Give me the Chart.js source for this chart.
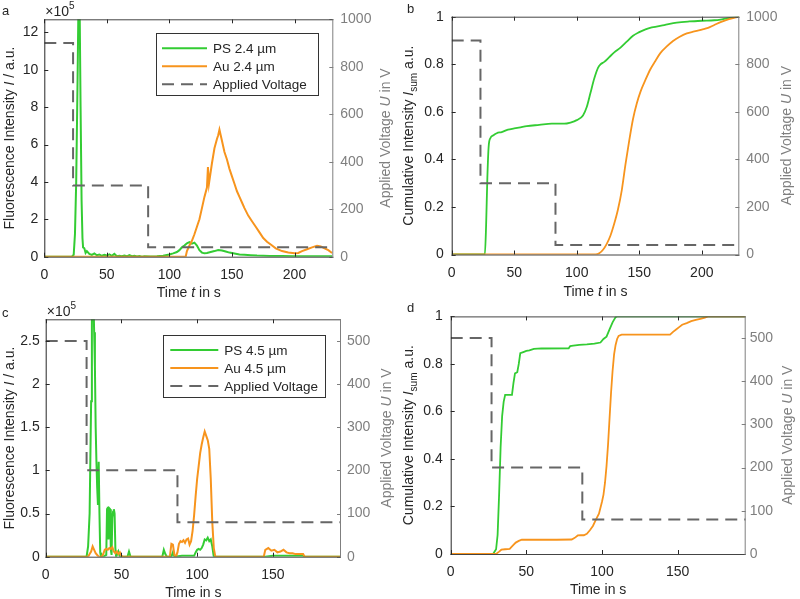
<!DOCTYPE html>
<html>
<head>
<meta charset="utf-8">
<script src="https://cdn.jsdelivr.net/npm/chart.js@4.4.0/dist/chart.umd.min.js"></script>
<style>
  body { margin: 0; background: #fff; width: 800px; height: 599px; position: relative; overflow: hidden; }
  .panel { position: absolute; }
  canvas { display: block; }
</style>
</head>
<body>
<div class="panel" style="left:0;top:0"><canvas id="ca" width="400" height="300"></canvas></div>
<div class="panel" style="left:400px;top:0"><canvas id="cb" width="400" height="300"></canvas></div>
<div class="panel" style="left:0;top:300px"><canvas id="cc" width="400" height="299"></canvas></div>
<div class="panel" style="left:400px;top:300px"><canvas id="cd" width="400" height="299"></canvas></div>
<script>
// ---- data (intensity in units of 1e5 for panels a and c) ----
const aTimePS = [0, 22, 23.5, 24.5, 25.5, 26.5, 27.3, 28.3, 29, 29.8, 30.5, 31, 32, 33, 34, 36, 38, 40, 42, 44, 46, 48, 50, 52, 54, 56, 58, 60, 62, 64, 66, 68, 70, 72, 74, 76, 78, 80, 85, 90, 95, 100, 103, 106, 108, 110, 112, 114, 116, 118, 120, 122, 124, 126, 128, 130, 133, 136, 139, 142, 145, 148, 152, 156, 160, 165, 170, 180, 190, 200, 210, 220, 230];
const aPS = [0, 0, 0.1, 1.2, 4, 9, 13.5, 13, 8, 3, 1, 0.5, 0.45, 0.2, 0.3, 0.15, 0.1, 0.18, 0.08, 0.12, 0.05, 0.1, 0.06, 0.12, 0.05, 0.15, 0.03, 0.05, 0.02, 0.06, 0.02, 0.08, 0.03, 0.05, 0.01, 0.04, 0, 0.02, 0.01, 0.02, 0.05, 0.12, 0.18, 0.25, 0.35, 0.5, 0.6, 0.72, 0.78, 0.7, 0.75, 0.6, 0.35, 0.22, 0.18, 0.2, 0.25, 0.3, 0.36, 0.33, 0.28, 0.22, 0.17, 0.12, 0.1, 0.08, 0.06, 0.04, 0.04, 0.02, 0.03, 0.02, 0.02];
const aTimeAu = [0, 113, 114, 116, 118, 120, 122, 124, 126, 128, 130, 130.8, 131.6, 134, 136, 138, 139, 140, 141, 142, 144, 146, 148, 150, 152, 154, 156, 158, 160, 163, 166, 169, 172, 175, 178, 181, 185, 190, 195, 200, 203, 206, 210, 214, 218, 221, 224, 227, 230];
const aAu = [0, 0, 0.3, 0.6, 0.85, 1.2, 1.6, 2.0, 2.6, 3.2, 3.7, 4.8, 3.9, 5.0, 5.8, 6.3, 6.5, 6.8, 6.5, 6.2, 5.6, 5.2, 4.7, 4.3, 3.9, 3.5, 3.2, 2.9, 2.6, 2.2, 1.9, 1.6, 1.3, 1.0, 0.8, 0.65, 0.45, 0.3, 0.22, 0.18, 0.2, 0.3, 0.4, 0.5, 0.58, 0.55, 0.45, 0.35, 0.2];

const bTimePS = [0, 26.5, 27.5, 28.5, 29.5, 31, 33, 36, 40, 45, 50, 55, 60, 70, 80, 90, 95, 100, 105, 108, 111, 114, 117, 119, 122, 126, 130, 135, 140, 145, 150, 155, 160, 170, 180, 190, 200, 210, 215, 220, 225, 230];
const bPS = [0, 0, 0.12, 0.32, 0.45, 0.49, 0.5, 0.51, 0.515, 0.525, 0.53, 0.535, 0.54, 0.545, 0.55, 0.55, 0.555, 0.565, 0.585, 0.62, 0.68, 0.74, 0.785, 0.8, 0.81, 0.83, 0.85, 0.87, 0.895, 0.92, 0.935, 0.947, 0.955, 0.965, 0.975, 0.98, 0.983, 0.985, 0.988, 0.993, 0.997, 1.0];
const bTimeAu = [0, 115, 118, 121, 124, 127, 130, 133, 136, 139, 142, 145, 148, 151, 155, 159, 163, 167, 172, 177, 182, 188, 194, 200, 205, 210, 215, 220, 225, 230];
const bAu = [0, 0, 0.005, 0.02, 0.045, 0.08, 0.13, 0.19, 0.27, 0.38, 0.48, 0.57, 0.635, 0.685, 0.735, 0.78, 0.815, 0.848, 0.875, 0.898, 0.915, 0.93, 0.938, 0.946, 0.953, 0.965, 0.977, 0.987, 0.994, 1.0];

const cTimePS = [0, 27, 28, 29, 30, 30.5, 31, 31.5, 32, 32.5, 33, 33.5, 34, 34.5, 35, 35.5, 36, 36.5, 38, 40, 40.5, 41, 41.5, 42, 42.5, 43, 43.5, 44, 44.5, 45, 45.5, 46, 46.5, 48, 49, 54, 55, 56, 77, 78, 79, 80, 83, 84, 85, 90, 98, 99, 100, 101, 102, 103, 104, 105, 106, 107, 108, 109, 110, 111, 145, 150, 160, 170, 171, 195];
const cPS = [0, 0, 0.12, 0.5, 1.8, 2.8, 3.2, 3.0, 2.6, 2.2, 1.5, 1.1, 0.8, 0.6, 1.1, 0.5, 0.05, 0, 0, 0.02, 0.55, 0.58, 0.2, 0.56, 0.55, 0.08, 0.02, 0.45, 0.52, 0.55, 0.5, 0.1, 0, 0.06, 0, 0, 0.06, 0, 0, 0.08, 0.03, 0, 0, 0.05, 0, 0.01, 0.01, 0.05, 0.08, 0.09, 0.08, 0.1, 0.14, 0.2, 0.19, 0.22, 0.18, 0.2, 0.12, 0, 0, 0.01, 0.01, 0.01, 0, 0];
const cTimeAu = [0, 28, 29, 30, 31, 32, 33, 34, 35, 37, 38, 39, 40, 41, 42, 43, 44, 45, 46, 47, 48, 49, 50, 51, 82, 83, 84, 85, 86, 87, 88, 89, 90, 91, 92, 93, 94, 95, 96, 97, 98, 99, 100, 101, 102, 103, 104, 105, 106, 107, 108, 109, 110, 111, 112, 144, 145, 147, 149, 151, 153, 155, 157, 159, 161, 163, 165, 167, 170, 171, 195];
const cAu = [0, 0, 0.03, 0.06, 0.12, 0.08, 0.04, 0.02, 0, 0, 0.03, 0.08, 0.09, 0.08, 0.1, 0.09, 0.11, 0.06, 0.04, 0.06, 0.03, 0.05, 0.01, 0, 0, 0.15, 0.14, 0.02, 0, 0.05, 0.15, 0.18, 0.17, 0.19, 0.16, 0.2, 0.21, 0.14, 0.18, 0.3, 0.48, 0.7, 0.9, 1.05, 1.2, 1.3, 1.38, 1.45, 1.4, 1.35, 1.25, 0.9, 0.4, 0.1, 0, 0, 0.08, 0.1, 0.07, 0.08, 0.05, 0.06, 0.08, 0.05, 0.04, 0.04, 0.03, 0.03, 0.03, 0, 0];

const dTimePS = [0, 28, 30, 31, 32, 33, 34, 35, 36, 40.5, 41.5, 42.5, 44, 45, 46, 48, 50, 52, 55, 60, 78, 79, 81, 85, 90, 95, 99, 101, 103, 105, 107, 109, 110, 120, 195];
const dPS = [0, 0, 0.02, 0.08, 0.25, 0.45, 0.58, 0.64, 0.67, 0.67, 0.72, 0.76, 0.765, 0.8, 0.845, 0.85, 0.855, 0.857, 0.863, 0.865, 0.866, 0.875, 0.877, 0.88, 0.882, 0.885, 0.89, 0.905, 0.915, 0.945, 0.975, 0.997, 1.0, 1.0, 1.0];
const dTimeAu = [0, 30, 32, 33.5, 36, 39, 41, 43, 45, 47, 50, 60, 70, 80, 82, 84, 86, 88, 90, 92, 94, 96, 98, 100, 101, 102, 103, 104, 105, 106, 107, 108, 109, 110, 111, 113, 130, 145, 147, 149, 151, 153, 156, 159, 162, 165, 168, 170, 195];
const dAu = [0, 0, 0.01, 0.018, 0.02, 0.022, 0.035, 0.048, 0.055, 0.06, 0.06, 0.06, 0.06, 0.061, 0.068, 0.078, 0.079, 0.079, 0.085, 0.1, 0.118, 0.145, 0.17, 0.22, 0.25, 0.3, 0.37, 0.46, 0.57, 0.68, 0.77, 0.84, 0.88, 0.905, 0.918, 0.923, 0.923, 0.923, 0.935, 0.945, 0.955, 0.965, 0.972, 0.98, 0.985, 0.99, 0.995, 1.0, 1.0];

// applied voltage steps
const vTimeAB = [0, 23, 23, 83, 83, 230];
const voltAB = [900, 900, 300, 300, 40, 40];
const vTimeCD = [0, 27, 27, 87, 87, 195];
const voltCD = [500, 500, 200, 200, 80, 80];

const FONT = '"Liberation Sans", Arial, Helvetica, sans-serif';
const FS = 14;
const DARK = '#262626';
const GREY = '#7f7f7f';
const GREEN = '#33cc33';
const ORANGE = '#f7941d';
const DASH = '#666666';

const zip = (xs, ys) => xs.map((x, i) => ({ x: x, y: ys[i] }));
const fmt = v => String(+v.toFixed(2));

function fontFor(p, size) {
  return (p.i ? 'italic ' : '') + (p.sub ? size * 0.72 : size) + 'px ' + FONT;
}
function richWidth(ctx, parts, size) {
  let w = 0;
  parts.forEach(p => { ctx.font = fontFor(p, size); w += ctx.measureText(p.t).width; });
  return w;
}
function drawRich(ctx, parts, cx, cy, rot, size, color) {
  ctx.save();
  ctx.translate(cx, cy);
  if (rot) ctx.rotate(rot);
  ctx.fillStyle = color;
  ctx.textBaseline = 'middle';
  ctx.textAlign = 'left';
  let x = -richWidth(ctx, parts, size) / 2;
  parts.forEach(p => {
    ctx.font = fontFor(p, size);
    ctx.fillText(p.t, x, p.sub ? size * 0.35 : 0);
    x += ctx.measureText(p.t).width;
  });
  ctx.restore();
}

const panels = {};

const deco = {
  id: 'deco',
  afterDatasetsDraw(chart) {
    const ctx = chart.ctx, a = chart.chartArea;
    const tl = 4;
    ctx.save();
    ctx.lineWidth = 1;
    // inward ticks, MATLAB style
    ctx.strokeStyle = DARK;
    chart.scales.x.ticks.forEach(t => {
      const x = Math.round(chart.scales.x.getPixelForValue(t.value)) + 0.5;
      ctx.beginPath();
      ctx.moveTo(x, a.bottom); ctx.lineTo(x, a.bottom - tl);
      ctx.moveTo(x, a.top); ctx.lineTo(x, a.top + tl);
      ctx.stroke();
    });
    chart.scales.y.ticks.forEach(t => {
      const y = Math.round(chart.scales.y.getPixelForValue(t.value)) + 0.5;
      ctx.beginPath(); ctx.moveTo(a.left, y); ctx.lineTo(a.left + tl, y); ctx.stroke();
    });
    ctx.strokeStyle = GREY;
    chart.scales.y2.ticks.forEach(t => {
      const y = Math.round(chart.scales.y2.getPixelForValue(t.value)) + 0.5;
      ctx.beginPath(); ctx.moveTo(a.right, y); ctx.lineTo(a.right - tl, y); ctx.stroke();
    });
    // box
    ctx.strokeStyle = '#444444';
    ctx.beginPath();
    ctx.moveTo(a.left, a.top + 0.5); ctx.lineTo(a.right, a.top + 0.5);
    ctx.moveTo(a.left, a.bottom + 0.5); ctx.lineTo(a.right, a.bottom + 0.5);
    ctx.stroke();
    ctx.strokeStyle = DARK;
    ctx.beginPath(); ctx.moveTo(a.left + 0.5, a.top); ctx.lineTo(a.left + 0.5, a.bottom + 1); ctx.stroke();
    ctx.strokeStyle = GREY;
    ctx.beginPath(); ctx.moveTo(a.right - 0.5, a.top); ctx.lineTo(a.right - 0.5, a.bottom + 1); ctx.stroke();
    ctx.restore();
  },
  afterDraw(chart) {
    const p = panels[chart.canvas.id];
    const ctx = chart.ctx, a = chart.chartArea;
    const midY = (a.top + a.bottom) / 2, midX = (a.left + a.right) / 2;
    drawRich(ctx, p.yTitle, p.titlePos[0], midY, -Math.PI / 2, FS, DARK);
    drawRich(ctx, p.y2Title, p.titlePos[1], midY, -Math.PI / 2, FS, GREY);
    drawRich(ctx, p.xTitle, midX, p.titlePos[2], 0, FS, DARK);

    ctx.save();
    ctx.fillStyle = DARK;
    ctx.textBaseline = 'alphabetic';
    ctx.textAlign = 'left';
    ctx.font = '13px ' + FONT;
    ctx.fillText(p.letter, p.letterPos[0], p.letterPos[1]);
    if (p.exp) {
      ctx.font = FS + 'px ' + FONT;
      ctx.fillText('\u00d710', a.left + 1, a.top - 3);
      const w = ctx.measureText('\u00d710').width;
      ctx.font = '10px ' + FONT;
      ctx.fillText('5', a.left + 1 + w, a.top - 10);
    }
    if (p.legend) {
      const L = p.legend;
      ctx.fillStyle = '#fff';
      ctx.fillRect(L.x, L.y, L.w, L.h);
      ctx.strokeStyle = '#333';
      ctx.lineWidth = 1;
      ctx.strokeRect(Math.round(L.x) + 0.5, Math.round(L.y) + 0.5, L.w, L.h);
      chart.data.datasets.forEach((ds, i) => {
        const y = L.y + L.row0 + i * L.dy;
        ctx.save();
        ctx.strokeStyle = ds.borderColor;
        ctx.lineWidth = ds.borderWidth;
        ctx.setLineDash(ds.borderDash || []);
        ctx.beginPath(); ctx.moveTo(L.x + L.l0, y); ctx.lineTo(L.x + L.l1, y); ctx.stroke();
        ctx.restore();
        ctx.fillStyle = DARK;
        ctx.font = '13.5px ' + FONT;
        ctx.textBaseline = 'middle';
        ctx.fillText(ds.label, L.x + L.tx, y + 1);
      });
    }
    ctx.restore();
  }
};

function axisFont() { return { family: FONT, size: FS }; }

function buildChart(p) {
  panels[p.id] = p;
  const canvas = document.getElementById(p.id);
  const W = canvas.width, H = canvas.height;
  return new Chart(canvas, {
    type: 'line',
    data: { datasets: p.datasets },
    options: {
      responsive: false,
      animation: false,
      layout: { padding: { top: p.area.t, left: 0, right: 0, bottom: 0 } },
      elements: { point: { radius: 0 }, line: { tension: 0 } },
      plugins: { legend: { display: false }, tooltip: { enabled: false } },
      scales: {
        x: {
          type: 'linear', min: 0, max: p.xMax,
          grid: { display: false, drawTicks: false }, border: { display: false },
          ticks: { stepSize: 50, includeBounds: false, autoSkip: false, maxRotation: 0, padding: 10, color: DARK, font: axisFont() },
          afterFit: s => { s.height = H - p.area.b; }
        },
        y: {
          type: 'linear', position: 'left', min: 0, max: p.yMax,
          grid: { display: false, drawTicks: false }, border: { display: false },
          ticks: { stepSize: p.yStep, includeBounds: false, padding: p.pad[0], color: DARK, font: axisFont(), callback: fmt },
          afterFit: s => { s.width = p.area.l; }
        },
        y2: {
          type: 'linear', position: 'right', min: 0, max: p.y2Max,
          grid: { display: false, drawTicks: false }, border: { display: false },
          ticks: { stepSize: p.y2Step, includeBounds: false, padding: p.pad[1], color: GREY, font: axisFont(), callback: fmt },
          afterFit: s => { s.width = W - p.area.r; }
        }
      }
    },
    plugins: [deco]
  });
}

function line(label, xs, ys, color, width, order, smooth) {
  return {
    label: label, data: zip(xs, ys), borderColor: color, borderWidth: width,
    fill: false, yAxisID: 'y', order: order,
    cubicInterpolationMode: smooth ? 'monotone' : 'default'
  };
}
function volt(xs, ys) {
  return {
    label: 'Applied Voltage', data: zip(xs, ys), borderColor: DASH, borderWidth: 2,
    borderDash: [12, 7], fill: false, yAxisID: 'y2', order: 1
  };
}

const fluoTitle = [{ t: 'Fluorescence Intensity ' }, { t: 'I', i: true }, { t: ' / a.u.' }];
const cumTitle = [{ t: 'Cumulative Intensity ' }, { t: 'I', i: true }, { t: 'sum', sub: true }, { t: ' a.u.' }];
const voltTitle = [{ t: 'Applied Voltage ' }, { t: 'U', i: true }, { t: ' in V' }];
const timeT = [{ t: 'Time ' }, { t: 't', i: true }, { t: ' in s' }];
const timePlain = [{ t: 'Time in s' }];

buildChart({
  id: 'ca', letter: 'a', letterPos: [2, 15], exp: true,
  area: { l: 44.3, r: 333.3, t: 19.3, b: 256.7 }, pad: [6, 7],
  xMax: 231, yMax: 12.7, yStep: 2, y2Max: 1000, y2Step: 200,
  yTitle: fluoTitle, y2Title: voltTitle, xTitle: timeT, titlePos: [10, 386, 293],
  legend: { x: 156, y: 33.3, w: 162, h: 62, row0: 15, dy: 18, l0: 6, l1: 51, tx: 57 },
  datasets: [
    line('PS 2.4 \u00b5m', aTimePS, aPS, GREEN, 2, 3),
    line('Au 2.4 \u00b5m', aTimeAu, aAu, ORANGE, 2, 2),
    volt(vTimeAB, voltAB)
  ]
});

buildChart({
  id: 'cb', letter: 'b', letterPos: [7, 13],
  area: { l: 51.7, r: 339.3, t: 16.7, b: 254.5 }, pad: [8, 7],
  xMax: 230, yMax: 1, yStep: 0.2, y2Max: 1000, y2Step: 200,
  yTitle: cumTitle, y2Title: voltTitle, xTitle: timeT, titlePos: [9, 387, 291.7],
  datasets: [
    line('PS 2.4 \u00b5m', bTimePS, bPS, GREEN, 1.8, 3, true),
    line('Au 2.4 \u00b5m', bTimeAu, bAu, ORANGE, 1.8, 2, true),
    volt(vTimeAB, voltAB)
  ]
});

buildChart({
  id: 'cc', letter: 'c', letterPos: [2, 17], exp: true,
  area: { l: 45.7, r: 341, t: 19.3, b: 256.7 }, pad: [6, 6],
  xMax: 195, yMax: 2.75, yStep: 0.5, y2Max: 550, y2Step: 100,
  yTitle: fluoTitle, y2Title: voltTitle, xTitle: timePlain, titlePos: [10, 387, 293.3],
  legend: { x: 163.3, y: 35, w: 162, h: 62, row0: 15, dy: 18, l0: 7, l1: 55, tx: 61 },
  datasets: [
    line('PS 4.5 \u00b5m', cTimePS, cPS, GREEN, 2, 3),
    line('Au 4.5 \u00b5m', cTimeAu, cAu, ORANGE, 2, 2),
    volt(vTimeCD, voltCD)
  ]
});

buildChart({
  id: 'cd', letter: 'd', letterPos: [7, 12],
  area: { l: 50.7, r: 345.7, t: 15.7, b: 254 }, pad: [8, 4],
  xMax: 195, yMax: 1, yStep: 0.2, y2Max: 550, y2Step: 100,
  yTitle: cumTitle, y2Title: voltTitle, xTitle: timePlain, titlePos: [9, 388, 290],
  datasets: [
    line('PS 4.5 \u00b5m', dTimePS, dPS, GREEN, 1.8, 3),
    line('Au 4.5 \u00b5m', dTimeAu, dAu, ORANGE, 1.8, 2),
    volt(vTimeCD, voltCD)
  ]
});
</script>
</body>
</html>
